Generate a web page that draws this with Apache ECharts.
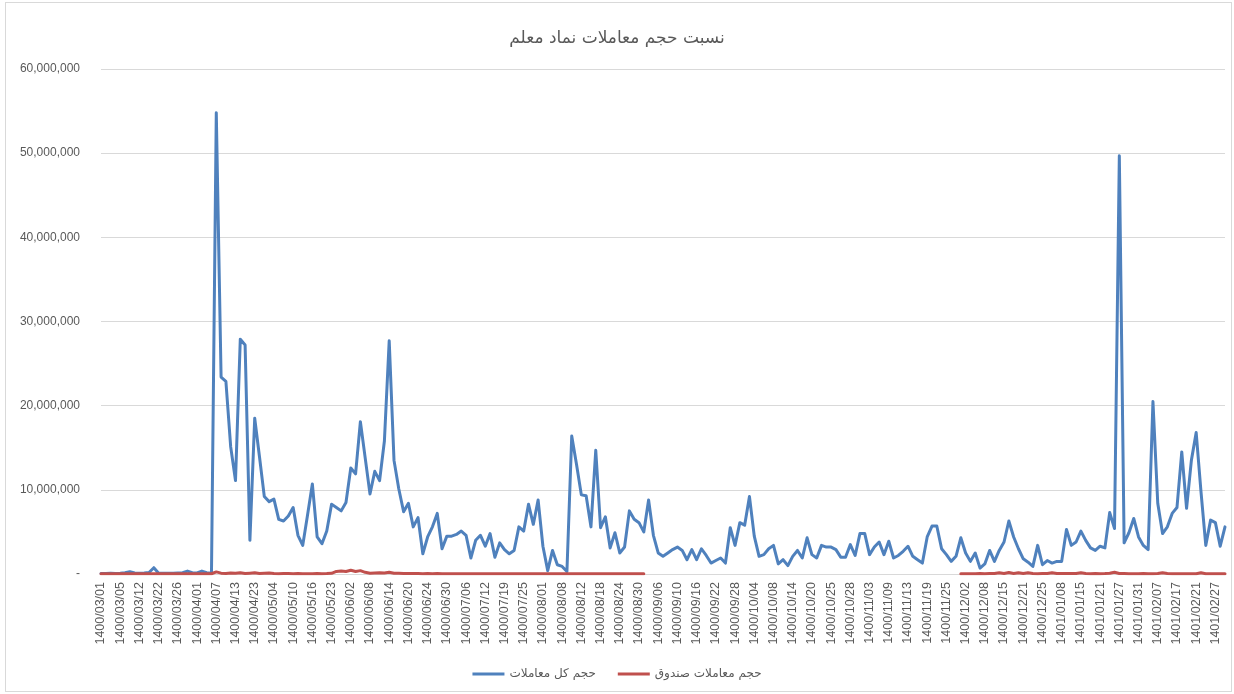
<!DOCTYPE html>
<html>
<head>
<meta charset="utf-8">
<title>نسبت حجم معاملات نماد معلم</title>
<script src="https://cdn.jsdelivr.net/npm/echarts@6/dist/echarts.min.js"></script>
<style>
  html, body { margin: 0; padding: 0; background: #fff; }
  .wrap { position: relative; width: 1234px; height: 694px; }
  #chart { width: 1234px; height: 694px; }
  .frame {
    position: absolute; left: 5px; top: 2px; right: 2px; bottom: 2px;
    border: 1px solid #d9d9d9; pointer-events: none;
  }
</style>
</head>
<body>
<div class="wrap">
  <div id="chart"></div>
  <div class="frame"></div>
</div>
<script>
// trading dates (every 4th one is shown on the axis)
const dates = [
  '1400/03/01','1400/03/02','1400/03/03','1400/03/04',
  '1400/03/05','1400/03/08','1400/03/09','1400/03/10',
  '1400/03/12','1400/03/16','1400/03/17','1400/03/19',
  '1400/03/22','1400/03/23','1400/03/24','1400/03/25',
  '1400/03/26','1400/03/29','1400/03/30','1400/03/31',
  '1400/04/01','1400/04/02','1400/04/05','1400/04/06',
  '1400/04/07','1400/04/08','1400/04/09','1400/04/12',
  '1400/04/13','1400/04/14','1400/04/15','1400/04/16',
  '1400/04/23','1400/04/26','1400/04/27','1400/04/28',
  '1400/05/04','1400/05/05','1400/05/06','1400/05/09',
  '1400/05/10','1400/05/11','1400/05/12','1400/05/13',
  '1400/05/16','1400/05/17','1400/05/18','1400/05/20',
  '1400/05/23','1400/05/24','1400/05/25','1400/05/26',
  '1400/06/02','1400/06/03','1400/06/06','1400/06/07',
  '1400/06/08','1400/06/09','1400/06/10','1400/06/13',
  '1400/06/14','1400/06/15','1400/06/16','1400/06/17',
  '1400/06/20','1400/06/21','1400/06/22','1400/06/23',
  '1400/06/24','1400/06/27','1400/06/28','1400/06/29',
  '1400/06/30','1400/06/31','1400/07/03','1400/07/04',
  '1400/07/06','1400/07/07','1400/07/10','1400/07/11',
  '1400/07/12','1400/07/13','1400/07/14','1400/07/18',
  '1400/07/19','1400/07/20','1400/07/21','1400/07/24',
  '1400/07/25','1400/07/26','1400/07/27','1400/07/28',
  '1400/08/01','1400/08/02','1400/08/03','1400/08/04',
  '1400/08/08','1400/08/09','1400/08/10','1400/08/11',
  '1400/08/12','1400/08/15','1400/08/16','1400/08/17',
  '1400/08/18','1400/08/19','1400/08/22','1400/08/23',
  '1400/08/24','1400/08/25','1400/08/26','1400/08/29',
  '1400/08/30','1400/09/01','1400/09/02','1400/09/03',
  '1400/09/06','1400/09/07','1400/09/08','1400/09/09',
  '1400/09/10','1400/09/13','1400/09/14','1400/09/15',
  '1400/09/16','1400/09/17','1400/09/20','1400/09/21',
  '1400/09/22','1400/09/23','1400/09/24','1400/09/27',
  '1400/09/28','1400/09/29','1400/09/30','1400/10/01',
  '1400/10/04','1400/10/05','1400/10/06','1400/10/07',
  '1400/10/08','1400/10/11','1400/10/12','1400/10/13',
  '1400/10/14','1400/10/15','1400/10/18','1400/10/19',
  '1400/10/20','1400/10/21','1400/10/22','1400/10/23',
  '1400/10/25','1400/10/26','1400/10/27','1400/10/27',
  '1400/10/28','1400/10/29','1400/10/30','1400/11/02',
  '1400/11/03','1400/11/04','1400/11/07','1400/11/08',
  '1400/11/09','1400/11/10','1400/11/11','1400/11/12',
  '1400/11/13','1400/11/16','1400/11/17','1400/11/18',
  '1400/11/19','1400/11/20','1400/11/23','1400/11/24',
  '1400/11/25','1400/11/26','1400/11/30','1400/12/01',
  '1400/12/02','1400/12/03','1400/12/04','1400/12/07',
  '1400/12/08','1400/12/09','1400/12/10','1400/12/14',
  '1400/12/15','1400/12/16','1400/12/17','1400/12/18',
  '1400/12/21','1400/12/22','1400/12/23','1400/12/24',
  '1400/12/25','1401/01/05','1401/01/06','1401/01/07',
  '1401/01/08','1401/01/09','1401/01/10','1401/01/14',
  '1401/01/15','1401/01/16','1401/01/17','1401/01/20',
  '1401/01/21','1401/01/22','1401/01/23','1401/01/24',
  '1401/01/27','1401/01/28','1401/01/29','1401/01/30',
  '1401/01/31','1401/02/03','1401/02/04','1401/02/05',
  '1401/02/07','1401/02/10','1401/02/11','1401/02/14',
  '1401/02/17','1401/02/18','1401/02/19','1401/02/20',
  '1401/02/21','1401/02/24','1401/02/25','1401/02/26',
  '1401/02/27','1401/02/28','1401/02/31'
]

// total volume (حجم کل معاملات)
const totalVolume = [
  50000, 60000, 80000, 70000, 100000, 150000, 280000, 120000,
  100000, 120000, 180000, 750000, 100000, 80000, 90000, 100000,
  120000, 150000, 350000, 150000, 120000, 350000, 150000, 100000,
  54800000, 23400000, 22900000, 15100000, 11100000, 27900000, 27200000, 4000000,
  18500000, 13900000, 9200000, 8600000, 8900000, 6500000, 6300000, 6900000,
  7900000, 4600000, 3400000, 7000000, 10700000, 4400000, 3600000, 5100000,
  8300000, 7900000, 7500000, 8500000, 12600000, 11900000, 18100000, 13800000,
  9500000, 12200000, 11100000, 15800000, 27700000, 13500000, 10100000, 7400000,
  8400000, 5600000, 6700000, 2400000, 4400000, 5600000, 7200000, 3000000,
  4500000, 4500000, 4700000, 5100000, 4600000, 1900000, 4000000, 4600000,
  3300000, 4800000, 2000000, 3700000, 2900000, 2400000, 2800000, 5600000,
  5100000, 8300000, 5900000, 8800000, 3300000, 400000, 2800000, 1100000,
  900000, 300000, 16400000, 13000000, 9400000, 9300000, 5600000, 14700000,
  5500000, 6800000, 3100000, 4900000, 2500000, 3200000, 7500000, 6500000,
  6100000, 5000000, 8800000, 4600000, 2500000, 2100000, 2500000, 2900000,
  3200000, 2800000, 1700000, 2900000, 1700000, 3000000, 2200000, 1300000,
  1600000, 1900000, 1300000, 5500000, 3400000, 6100000, 5800000, 9200000,
  4500000, 2100000, 2300000, 3000000, 3400000, 1200000, 1700000, 1000000,
  2100000, 2800000, 1900000, 4300000, 2300000, 1900000, 3400000, 3200000,
  3200000, 2900000, 2000000, 2000000, 3500000, 2200000, 4800000, 4800000,
  2300000, 3200000, 3800000, 2300000, 3900000, 1900000, 2200000, 2700000,
  3300000, 2100000, 1700000, 1300000, 4400000, 5700000, 5700000, 3000000,
  2300000, 1500000, 2100000, 4300000, 2500000, 1500000, 2500000, 700000,
  1200000, 2800000, 1500000, 2800000, 3800000, 6300000, 4400000, 3000000,
  1800000, 1400000, 900000, 3400000, 1100000, 1600000, 1300000, 1500000,
  1500000, 5300000, 3400000, 3800000, 5100000, 4000000, 3100000, 2800000,
  3300000, 3100000, 7300000, 5400000, 49700000, 3700000, 4900000, 6600000,
  4400000, 3400000, 2900000, 20500000, 8400000, 4800000, 5600000, 7200000,
  7900000, 14500000, 7800000, 13500000, 16800000, 9800000, 3400000, 6400000,
  6100000, 3300000, 5600000
]

// fund volume (حجم معاملات صندوق), no data between 1400/09/02 and 1400/11/30
const fundVolume = [
  20000, 20000, 20000, 20000, 20000, 20000, 20000, 20000,
  20000, 20000, 20000, 20000, 20000, 20000, 20000, 20000,
  20000, 20000, 20000, 20000, 20000, 20000, 20000, 30000,
  250000, 100000, 50000, 120000, 80000, 150000, 60000, 100000,
  150000, 50000, 80000, 120000, 50000, 40000, 60000, 50000,
  40000, 50000, 40000, 30000, 40000, 50000, 40000, 50000,
  80000, 300000, 350000, 300000, 450000, 300000, 400000, 200000,
  100000, 120000, 150000, 120000, 200000, 100000, 80000, 60000,
  50000, 60000, 50000, 40000, 50000, 40000, 60000, 40000,
  30000, 40000, 30000, 30000, 40000, 30000, 30000, 30000,
  30000, 30000, 30000, 30000, 30000, 30000, 30000, 30000,
  30000, 30000, 30000, 30000, 30000, 30000, 30000, 30000,
  30000, 30000, 30000, 30000, 30000, 30000, 30000, 30000,
  30000, 30000, 30000, 30000, 30000, 30000, 30000, 30000,
  30000, 30000, null, null, null, null, null, null,
  null, null, null, null, null, null, null, null,
  null, null, null, null, null, null, null, null,
  null, null, null, null, null, null, null, null,
  null, null, null, null, null, null, null, null,
  null, null, null, null, null, null, null, null,
  null, null, null, null, null, null, null, null,
  null, null, null, null, null, null, null, null,
  null, null, null, 30000, 30000, 40000, 30000, 50000,
  40000, 50000, 60000, 150000, 60000, 180000, 60000, 150000,
  50000, 150000, 60000, 40000, 50000, 60000, 150000, 60000,
  50000, 60000, 50000, 60000, 150000, 50000, 40000, 50000,
  40000, 50000, 80000, 200000, 60000, 50000, 40000, 40000,
  40000, 60000, 40000, 40000, 50000, 160000, 50000, 40000,
  40000, 40000, 40000, 40000, 40000, 150000, 40000, 40000,
  40000, 40000, 40000
]

const gray = '#595959'
const lineGray = '#d9d9d9'

const chart = echarts.init(document.getElementById('chart'))

chart.setOption({
  animation: false,
  backgroundColor: '#fff',
  title: {
    text: 'نسبت حجم معاملات نماد معلم',
    left: 'center',
    top: 25,
    textStyle: {
      fontFamily: 'DejaVu Sans',
      fontSize: 17,
      fontWeight: 'normal',
      color: gray
    }
  },
  legend: {
    bottom: 9,
    left: 'center',
    icon: 'rect',
    itemWidth: 32,
    itemHeight: 3,
    itemGap: 22,
    textStyle: {
      fontFamily: 'DejaVu Sans',
      fontSize: 12,
      color: gray
    }
  },
  grid: {
    left: 101,
    right: 9,
    top: 69,
    bottom: 120,
    containLabel: false
  },
  xAxis: {
    type: 'category',
    data: dates,
    boundaryGap: false,
    axisLine: { lineStyle: { color: lineGray, width: 1 } },
    axisTick: { show: false },
    axisLabel: {
      interval: 3,
      rotate: 90,
      margin: 8,
      fontFamily: 'Liberation Sans',
      fontSize: 12.5,
      color: gray
    }
  },
  yAxis: {
    type: 'value',
    min: 0,
    max: 60000000,
    interval: 10000000,
    axisLine: { show: false },
    axisTick: { show: false },
    splitLine: { lineStyle: { color: lineGray, width: 1 } },
    axisLabel: {
      margin: 21,
      fontFamily: 'Liberation Sans',
      fontSize: 12,
      color: gray,
      formatter: function (v) {
        return v === 0 ? '-' : v.toLocaleString('en-US')
      }
    }
  },
  series: [
    {
      name: 'حجم کل معاملات',
      type: 'line',
      data: totalVolume,
      symbol: 'none',
      lineStyle: { width: 3, color: '#4F81BD', cap: 'round', join: 'round' },
      itemStyle: { color: '#4F81BD' }
    },
    {
      name: 'حجم معاملات صندوق',
      type: 'line',
      data: fundVolume,
      symbol: 'none',
      lineStyle: { width: 3, color: '#C0504D', cap: 'round', join: 'round' },
      itemStyle: { color: '#C0504D' }
    }
  ]
})
</script>
</body>
</html>
